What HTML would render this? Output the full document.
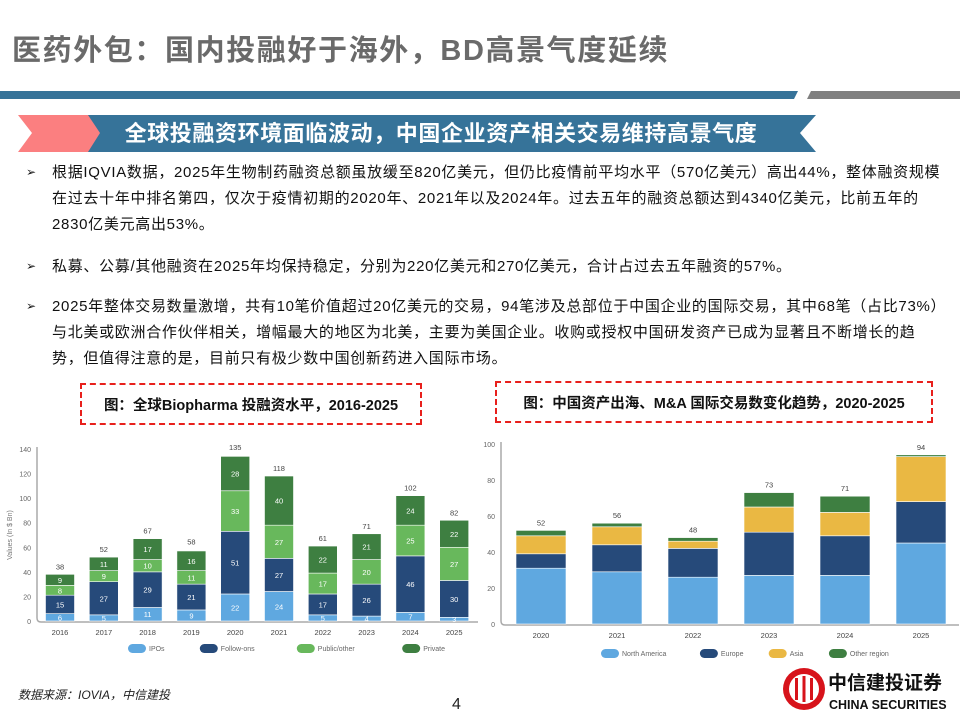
<!DOCTYPE html>
<html><head><meta charset="utf-8">
<style>
body{margin:0;width:960px;height:720px;overflow:hidden;background:#fff;font-family:"Liberation Sans","Noto Sans CJK SC",sans-serif;position:relative}
.abs{position:absolute}
.title{left:12px;top:27px;font-size:29px;font-weight:bold;color:#6a6a6a;white-space:nowrap;letter-spacing:1.6px}
.line{position:absolute;left:52px;font-size:15px;letter-spacing:0.7px;color:#111;white-space:nowrap}
.bul{position:absolute;left:26px;font-size:12px;color:#111}
.cap{position:absolute;border:2px dashed #e8201c;font-size:14.5px;font-weight:bold;color:#111;display:flex;align-items:center;justify-content:center;white-space:nowrap}
</style></head><body>
<div class="abs title">医药外包：国内投融好于海外，BD高景气度延续</div>
<svg class="abs" style="left:0;top:0" width="960" height="160">
<polygon points="0,91 798,91 794,99 0,99" fill="#367399"/>
<polygon points="811,91 960,91 960,99 807,99" fill="#808080"/>
<polygon points="18,115 92,115 104,133 92,152 18,152 32,133" fill="#fb7f80"/>
<polygon points="88,115 816,115 800,133 816,152 88,152 100,133" fill="#367399"/>
<text x="441" y="141" text-anchor="middle" font-size="22" letter-spacing="0.6" font-weight="bold" fill="#fff" font-family="Liberation Sans, Noto Sans CJK SC, sans-serif">全球投融资环境面临波动，中国企业资产相关交易维持高景气度</text>
</svg>
<div class="bul" style="top:165px">➢</div>
<div class="line" style="top:161px">根据IQVIA数据，2025年生物制药融资总额虽放缓至820亿美元，但仍比疫情前平均水平（570亿美元）高出44%，整体融资规模</div>
<div class="line" style="top:187px">在过去十年中排名第四，仅次于疫情初期的2020年、2021年以及2024年。过去五年的融资总额达到4340亿美元，比前五年的</div>
<div class="line" style="top:213px">2830亿美元高出53%。</div>
<div class="bul" style="top:259px">➢</div>
<div class="line" style="top:255px">私募、公募/其他融资在2025年均保持稳定，分别为220亿美元和270亿美元，合计占过去五年融资的57%。</div>
<div class="bul" style="top:299px">➢</div>
<div class="line" style="top:295px">2025年整体交易数量激增，共有10笔价值超过20亿美元的交易，94笔涉及总部位于中国企业的国际交易，其中68笔（占比73%）</div>
<div class="line" style="top:321px">与北美或欧洲合作伙伴相关，增幅最大的地区为北美，主要为美国企业。收购或授权中国研发资产已成为显著且不断增长的趋</div>
<div class="line" style="top:347px">势，但值得注意的是，目前只有极少数中国创新药进入国际市场。</div>
<div class="cap" style="left:80px;top:383px;width:338px;height:38px">图：全球Biopharma 投融资水平，2016-2025</div>
<div class="cap" style="left:495px;top:381px;width:434px;height:38px">图：中国资产出海、M&amp;A 国际交易数变化趋势，2020-2025</div>
<svg id="c1" class="abs" style="left:0;top:440px" width="480" height="225"></svg>
<svg id="c2" class="abs" style="left:475px;top:435px" width="485" height="230"></svg>
<div class="abs" style="left:18px;top:686px;font-size:12px;font-style:italic;color:#222">数据来源：IOVIA，中信建投</div>
<div class="abs" style="left:452px;top:696px;font-size:16px;color:#222">4</div>
<svg class="abs" style="left:782px;top:664px" width="175" height="52">
<circle cx="22" cy="25" r="21" fill="#d7131b"/><circle cx="22" cy="25" r="15" fill="#fff"/>
<rect x="13" y="14" width="3" height="22" fill="#d7131b"/><rect x="20.5" y="12" width="3" height="26" fill="#d7131b"/><rect x="28" y="14" width="3" height="22" fill="#d7131b"/>
<text x="46" y="25" font-size="19" font-weight="bold" fill="#111" font-family="Noto Sans CJK SC, sans-serif">中信建投证券</text>
<text x="47" y="45" font-size="12.5" font-weight="bold" fill="#111" font-family="Liberation Sans, sans-serif">CHINA SECURITIES</text>
</svg>
<script>
const years1=["2016","2017","2018","2019","2020","2021","2022","2023","2024","2025"];
const ipos=[6,5,11,9,22,24,5,4,7,3];
const followons=[15,27,29,21,51,27,17,26,46,30];
const publicOther=[8,9,10,11,33,27,17,20,25,27];
const privateF=[9,11,17,16,28,40,22,21,24,22];
const totals1=[38,52,67,58,135,118,61,71,102,82];
const ticks1=[0,20,40,60,80,100,120,140];
const names1=["IPOs","Follow-ons","Public/other","Private"];

const years2=["2020","2021","2022","2023","2024","2025"];
const northAmerica=[31,29,26,27,27,45];
const europe=[8,15,16,24,22,23];
const asia=[10,10,4,14,13,25];
const otherRegion=[3,2,2,8,9,1];
const totals2=[52,56,48,73,71,94];
const ticks2=[0,20,40,60,80,100];
const names2=["North America","Europe","Asia","Other region"];

const NS="http://www.w3.org/2000/svg";
function mk(p,t,a){const e=document.createElementNS(NS,t);for(const k in a)e.setAttribute(k,a[k]);p.appendChild(e);return e;}
function txt(p,x,y,s,size,fill,anchor){const t=mk(p,"text",{x:x,y:y,"font-size":size,fill:fill,"text-anchor":anchor||"middle","font-family":"Liberation Sans, sans-serif"});t.textContent=s;return t;}

function chart(svg,cfg){
  const y=v=>cfg.y0-v*cfg.k;
  const x=i=>cfg.x0+i*cfg.step;
  cfg.ticks.forEach(t=>{const l=txt(svg,cfg.axisX-6,y(t)+3,t,7,"#666","end");
    
    });
  mk(svg,"path",{d:`M${cfg.axisX},${y(cfg.ticks[cfg.ticks.length-1])-2} V${cfg.y0-3} Q${cfg.axisX},${cfg.y0+1} ${cfg.axisX+4},${cfg.y0+1} H${cfg.axisEnd}`,stroke:"#aaa","stroke-width":1.5,fill:"none"});
  if(cfg.ylabel){const yl=txt(svg,12,(cfg.y0+y(cfg.ticks[cfg.ticks.length-1]))/2,cfg.ylabel,7,"#777");
    yl.setAttribute("transform",`rotate(-90 12 ${(cfg.y0+y(cfg.ticks[cfg.ticks.length-1]))/2})`);
    
    }
  cfg.cats.forEach((c,i)=>{
    let acc=0;
    cfg.series.forEach((s,j)=>{
      const v=s[i];
      const r=mk(svg,"rect",{x:x(i)-cfg.bw/2,y:y(acc+v),width:cfg.bw,height:v*cfg.k,fill:cfg.colors[j],stroke:"#fff","stroke-width":0.6});
      
      
      if(cfg.showVals){const t=txt(svg,x(i),y(acc+v/2)+3,v,7.5,"#fff");
        
        }
      acc+=v;
    });
    const tt=txt(svg,x(i),y(cfg.totals[i])-5,cfg.totals[i],7.5,"#444");
    
    
    const xl=txt(svg,x(i),cfg.y0+14,c,7.5,"#444");
    
    
  });
  let lx=cfg.legX;
  cfg.names.forEach((n,j)=>{
    mk(svg,"rect",{x:lx,y:cfg.legY-4,width:18,height:9,rx:4.5,fill:cfg.colors[j]});
    const t=txt(svg,lx+21,cfg.legY+3,n,7,"#666","start");
    
    
    lx+=21+n.length*cfg.legCh+cfg.legGap;
  });
}
chart(document.getElementById("c1"),{cats:years1,series:[ipos,followons,publicOther,privateF],totals:totals1,ticks:ticks1,names:names1,
  colors:["#5fa8e0","#264a7a","#68b85c","#3e7f41"],y0:181,k:172/140,x0:60,step:43.8,bw:29,axisX:37,axisEnd:478,showVals:true,
  ylabel:"Values (In $ Bn)",legX:128,legY:208,legCh:4.2,legGap:34});
chart(document.getElementById("c2"),{cats:years2,series:[northAmerica,europe,asia,otherRegion],totals:totals2,ticks:ticks2,names:names2,
  colors:["#5fa8e0","#264a7a","#eab843","#3e7f41"],y0:189,k:1.8,x0:66,step:76,bw:50,axisX:26,axisEnd:484,showVals:false,
  legX:126,legY:218,legCh:4.3,legGap:22});
</script>
</body></html>
